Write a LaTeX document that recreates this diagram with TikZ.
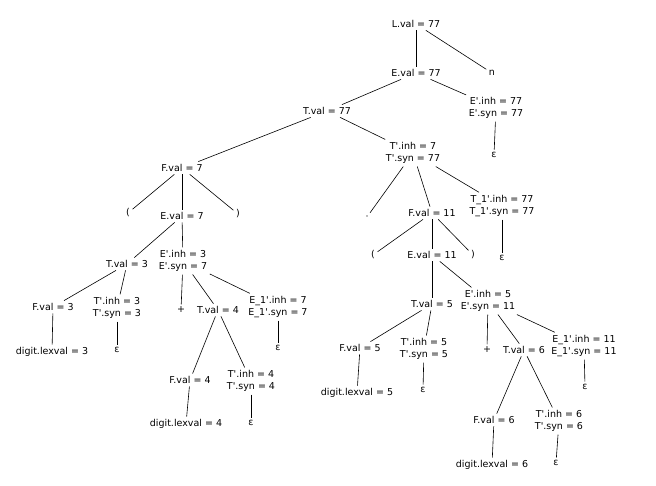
\documentclass[tikz,border=0pt]{standalone}
\usepackage{fontspec}
\newfontfamily\treefont{DejaVu Sans}[Ligatures=TeXOff]
\usepackage{tikz}

\tikzset{
  lbl/.style={font=\treefont\fontsize{9.5}{12.5}\selectfont, inner sep=2.5pt, align=center},
  edge/.style={line width=0.6pt}
}

\begin{document}
\begin{tikzpicture}[x=1pt,y=-1pt]
\useasboundingbox (0,0) rectangle (656,486);
% top
\node[lbl] (Lval) at (416,24) {L.val = 77};
\node[lbl] (nTok) at (492,73) {n};
\node[lbl] (Eval) at (416,73) {E.val = 77};
\node[lbl] (Tval) at (327,111) {T.val = 77};
\node[lbl] (Ep) at (496,108) {E'.inh = 77\\E'.syn = 77};
\node[lbl] (EpEps) at (494,155) {ε};
\node[lbl] (Tp) at (413,153) {T'.inh = 7\\T'.syn = 77};
% left part
\node[lbl] (Fval7) at (182,168) {F.val = 7};
\node[lbl] (lpA) at (128,213) {(};
\node[lbl] (Eval7) at (182,216) {E.val = 7};
\node[lbl] (rpA) at (238,214) {)};
\node[lbl] (Tval3) at (127,264) {T.val = 3};
\node[lbl] (Ep3) at (183,261) {E'.inh = 3\\E'.syn = 7};
\node[lbl] (Fval3) at (53,307) {F.val = 3};
\node[lbl] (Tp3) at (117,308) {T'.inh = 3\\T'.syn = 3};
\node[lbl] (plusA) at (181,310) {+};
\node[lbl] (Tval4) at (218,310) {T.val = 4};
\node[lbl] (EpA) at (278,307) {E\_1'.inh = 7\\E\_1'.syn = 7};
\node[lbl] (dig3) at (52,352) {digit.lexval = 3};
\node[lbl] (Tp3Eps) at (117,350) {ε};
\node[lbl] (EpAEps) at (278,348) {ε};
\node[lbl] (Fval4) at (190,380) {F.val = 4};
\node[lbl] (Tp4) at (251,381) {T'.inh = 4\\T'.syn = 4};
\node[lbl] (dig4) at (186,424) {digit.lexval = 4};
\node[lbl] (Tp4Eps) at (251,423) {ε};
% right part
\node[lbl, font=\treefont\fontsize{4}{4}\selectfont] (star) at (367,217) {*};
\node[lbl] (Fval11) at (432,213) {F.val = 11};
\node[lbl] (Tp1) at (502,206) {T\_1'.inh = 77\\T\_1'.syn = 77};
\node[lbl] (Tp1Eps) at (502,258) {ε};
\node[lbl] (lpB) at (373,255) {(};
\node[lbl] (Eval11) at (432,255) {E.val = 11};
\node[lbl] (rpB) at (473,255) {)};
\node[lbl] (Tval5) at (432,304) {T.val = 5};
\node[lbl] (Ep5) at (488,301) {E'.inh = 5\\E'.syn = 11};
\node[lbl] (Fval5) at (360,348) {F.val = 5};
\node[lbl] (Tp5) at (424,349) {T'.inh = 5\\T'.syn = 5};
\node[lbl] (plusB) at (487,350) {+};
\node[lbl] (Tval6) at (524,350) {T.val = 6};
\node[lbl] (EpB) at (584,346) {E\_1'.inh = 11\\E\_1'.syn = 11};
\node[lbl] (dig5) at (357,393) {digit.lexval = 5};
\node[lbl] (Tp5Eps) at (423,390) {ε};
\node[lbl] (EpBEps) at (585,387) {ε};
\node[lbl] (Fval6) at (494,420) {F.val = 6};
\node[lbl] (Tp6) at (559,421) {T'.inh = 6\\T'.syn = 6};
\node[lbl] (dig6) at (492,465) {digit.lexval = 6};
\node[lbl] (Tp6Eps) at (556,463) {ε};
% edges
\foreach \a/\b in {Lval/Eval, Lval/nTok, Eval/Tval, Eval/Ep, Ep/EpEps, Tval/Fval7, Tval/Tp,
  Fval7/lpA, Fval7/Eval7, Fval7/rpA, Eval7/Tval3, Eval7/Ep3, Tval3/Fval3, Tval3/Tp3,
  Ep3/plusA, Ep3/Tval4, Ep3/EpA, Fval3/dig3, Tp3/Tp3Eps, EpA/EpAEps, Tval4/Fval4, Tval4/Tp4,
  Fval4/dig4, Tp4/Tp4Eps,
  Tp/star, Tp/Fval11, Tp/Tp1, Tp1/Tp1Eps, Fval11/lpB, Fval11/Eval11, Fval11/rpB,
  Eval11/Tval5, Eval11/Ep5, Tval5/Fval5, Tval5/Tp5, Ep5/plusB, Ep5/Tval6, Ep5/EpB,
  Fval5/dig5, Tp5/Tp5Eps, EpB/EpBEps, Tval6/Fval6, Tval6/Tp6, Fval6/dig6, Tp6/Tp6Eps}
  \draw[edge] (\a) -- (\b);
\end{tikzpicture}
\end{document}
